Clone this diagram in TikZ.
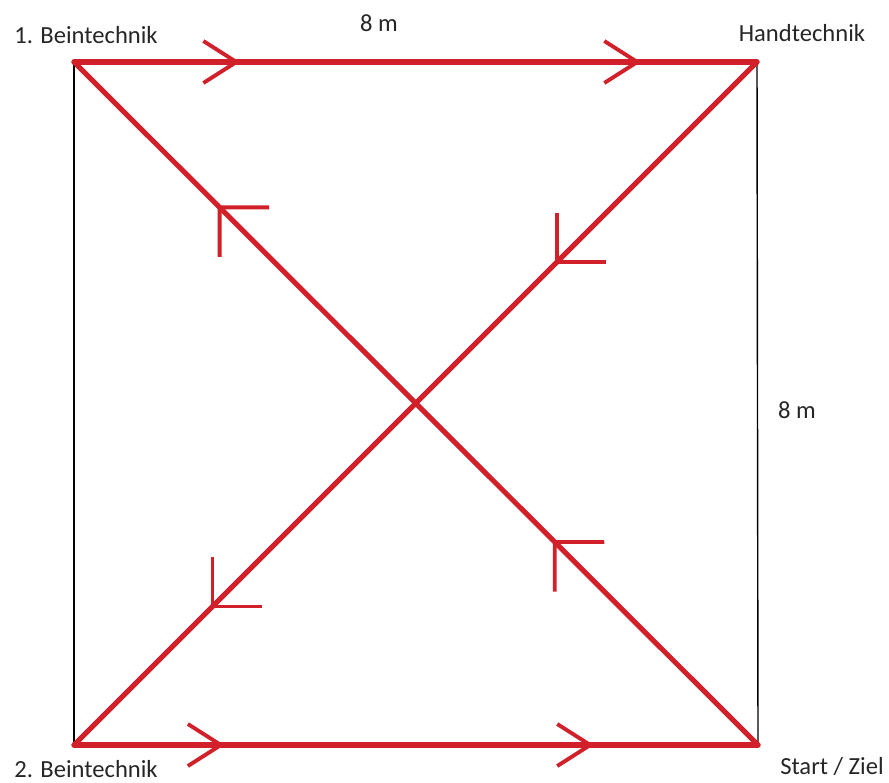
\documentclass[tikz,border=0pt]{standalone}
\usepackage{fontspec}
\setmainfont{Carlito}
\usetikzlibrary{arrows.meta,decorations.markings}
\definecolor{runred}{RGB}{210,32,42}

\begin{document}
\begin{tikzpicture}[
  x=0.02cm, y=-0.02cm,
  run/.style={draw=runred, line width=2.9pt, line cap=round},
  side/.style={draw=black, line width=0.8pt},
  lbl/.style={font=\fontsize{14}{16}\selectfont, text=black!85, inner sep=0pt},
  flatarr/.style 2 args={postaction={decorate, decoration={markings,
      mark=at position #1 with {\arrow[runred, line width=2.2pt]{Straight Barb[length=0.66cm, width=0.84cm]}},
      mark=at position #2 with {\arrow[runred, line width=2.2pt]{Straight Barb[length=0.66cm, width=0.84cm]}}}}},
  diagarr/.style 2 args={postaction={decorate, decoration={markings,
      mark=at position #1 with {\arrow[runred, line width=2.2pt]{Straight Barb[length=0.7cm, width=1.4cm]}},
      mark=at position #2 with {\arrow[runred, line width=2.2pt]{Straight Barb[length=0.7cm, width=1.4cm]}}}}},
]
\useasboundingbox (0,0) rectangle (889,782);

% ===== Corners of the 8 m square =====
\coordinate (bein1) at (74,62);
\coordinate (hand) at (757,62);
\coordinate (bein2) at (74,745);
\coordinate (ziel) at (758,745);

% ===== Labels =====
\node[lbl] (lbein1) at (86,35) {1. Beintechnik};
\node[lbl] (lhand) at (802,33) {Handtechnik};
\node[lbl] (lbein2) at (86,769) {2. Beintechnik};
\node[lbl] (lziel) at (832,766) {Start / Ziel};
\node[lbl] (ltop) at (379,23) {8 m};
\node[lbl] (lright) at (797,410) {8 m};

% ===== Sides =====
\draw[side] (bein1) -- (bein2);
\draw[side] (hand) -- (ziel);

% ===== Run =====
\draw[run, diagarr={0.30}{0.79}] (ziel) -- (bein1);
\draw[run, flatarr={0.243}{0.83}] (bein1) -- (hand);
\draw[run, diagarr={0.296}{0.80}] (hand) -- (bein2);
\draw[run, flatarr={0.22}{0.76}] (bein2) -- (ziel);

\end{tikzpicture}
\end{document}
